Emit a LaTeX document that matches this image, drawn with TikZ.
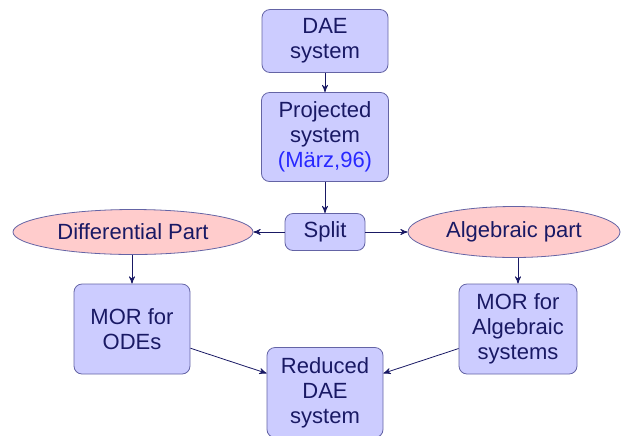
\documentclass[tikz,border=0pt]{standalone}
\usepackage{fontspec}
\setmainfont{Liberation Sans}
\usetikzlibrary{shapes.geometric,arrows}

\definecolor{boxfill}{RGB}{204,204,255}
\definecolor{boxline}{RGB}{100,100,165}
\definecolor{ellfill}{RGB}{255,204,204}
\definecolor{txt}{RGB}{25,25,100}
\definecolor{refblue}{RGB}{40,40,255}

\begin{document}
\begin{tikzpicture}[x=0.5pt, y=-0.5pt,
  every node/.style={font=\fontsize{11}{12.5}\selectfont, text=txt},
  blok/.style={draw=boxline, fill=boxfill, rounded corners=4pt, align=center, inner sep=0pt},
  part/.style={ellipse, draw=boxline, fill=ellfill, inner sep=0pt},
  pijl/.style={->, >=stealth', draw=txt}]
\useasboundingbox (0,0) rectangle (621,435);

% boxes down the middle
\node[blok, minimum width=63pt, minimum height=31.5pt] (dae) at (325,41) {DAE\\system};
\node[blok, minimum width=63.5pt, minimum height=44.5pt] (proj) at (325,137) {Projected\\system\\\textcolor{refblue}{(M\"arz,96)}};
\node[blok, minimum width=40pt, minimum height=18.5pt] (split) at (325,232) {Split};

% the two parts
\node[part, minimum width=120pt, minimum height=22.5pt] (diff) at (133,232) {Differential Part};
\node[part, minimum width=106pt, minimum height=25.5pt] (alg) at (514,232) {Algebraic part};

% reduction
\node[blok, minimum width=58pt, minimum height=45pt] (ode) at (132,329) {MOR for\\ODEs};
\node[blok, minimum width=59pt, minimum height=45pt] (algmor) at (518,329) {MOR for\\Algebraic\\systems};
\node[blok, minimum width=58pt, minimum height=45pt] (red) at (325,392.5) {Reduced\\DAE\\system};

\draw[pijl] (dae) -- (proj);
\draw[pijl] (proj) -- (split);
\draw[pijl] (split) -- (diff);
\draw[pijl] (split) -- (alg);
\draw[pijl] (diff.south -| ode.north) -- (ode.north);
\draw[pijl] (alg.south -| algmor.north) -- (algmor.north);
\draw[pijl] (ode) -- (red);
\draw[pijl] (algmor) -- (red);
\end{tikzpicture}
\end{document}
